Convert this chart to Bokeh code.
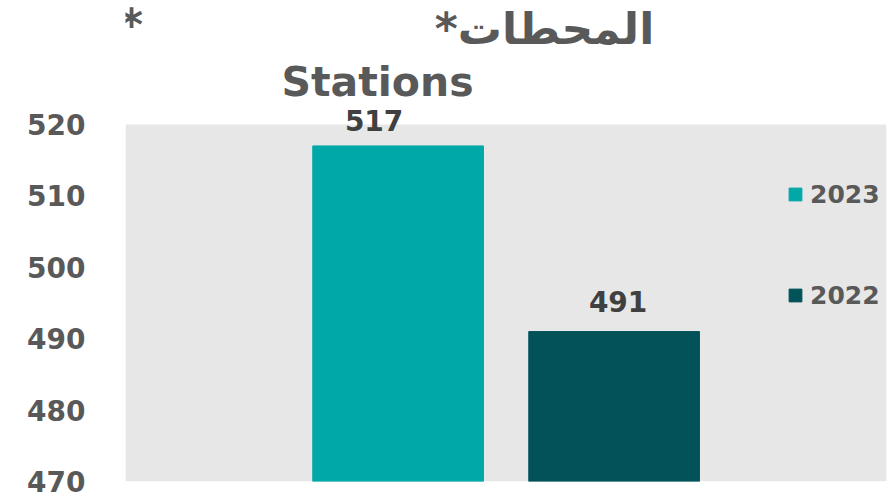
from bokeh.plotting import figure
from bokeh.models import (ColumnDataSource, Range1d, FixedTicker, Legend, LegendItem,
                          LabelSet, Label, BoxAnnotation)
from bokeh.core.properties import value
from bokeh.embed import file_html
from bokeh.resources import INLINE

# ---- data ----
years = ["2023", "2022"]
stations = [517, 491]
y_ticks = [470, 480, 490, 500, 510, 520]
title_ar = "*المحطات"
title_en = "Stations"

# ---- styles ----
bar_colors = ["#00A8A8", "#02525A"]
label_dx = [-24, 4]     # label nudges in px (as in the reference)
label_dy = [15, 20]
FONT = "DejaVu Sans"
GREY = "#595959"
PLOT_BG = "#E7E7E7"

src = ColumnDataSource(dict(
    x=list(range(len(years))),
    top=stations,
    bottom=[y_ticks[0]] * len(years),
    year=years,
    color=bar_colors,
    txt=[str(v) for v in stations],
    dx=label_dx,
    dy=label_dy,
))

# frame spans the whole page height so that the titles (inside it) are not clipped;
# the grey box marks the real plotting area 470..520
p = figure(width=894, height=499, output_backend="svg", toolbar_location=None,
           x_range=Range1d(-1.262, 2.261), y_range=Range1d(y_ticks[0], 537.37),
           min_border_left=125, min_border_right=8, min_border_top=0, min_border_bottom=18)

p.background_fill_color = "white"
p.border_fill_color = "white"
p.outline_line_color = None
p.grid.visible = False
p.xaxis.visible = False

p.add_layout(BoxAnnotation(bottom=y_ticks[0], top=y_ticks[-1], fill_color=PLOT_BG,
                           fill_alpha=1, line_color=None, level="underlay"))

ya = p.yaxis[0]
ya.ticker = FixedTicker(ticks=y_ticks)
ya.axis_line_color = None
ya.major_tick_line_color = None
ya.minor_tick_line_color = None
ya.major_tick_out = 0
ya.major_tick_in = 0
ya.major_label_standoff = 40
ya.major_label_text_font = FONT
ya.major_label_text_font_size = "28px"
ya.major_label_text_font_style = "bold"
ya.major_label_text_color = GREY

r = p.vbar(x="x", top="top", bottom="bottom", width=0.79, color="color", source=src)

labels = LabelSet(x="x", y="top", text="txt", x_offset="dx", y_offset="dy", source=src,
                  text_align="center", text_baseline="alphabetic", text_font=value(FONT),
                  text_font_size=value("28px"), text_font_style="bold", text_color="#404040")
p.add_layout(labels)

legend = Legend(items=[LegendItem(label=years[i], renderers=[r], index=i) for i in range(len(years))],
                location=(662, 171), padding=0, margin=0, spacing=71,
                glyph_width=16, glyph_height=16, label_height=30, label_standoff=7,
                label_text_font=FONT, label_text_font_size="25px", label_text_font_style="bold",
                label_text_color=GREY, border_line_color=None, background_fill_alpha=0)
p.add_layout(legend)

for txt, x, y, size in [(title_ar, 419, 453, "44px"),
                        (title_en, 252, 400, "41px"),
                        ("*", 6, 457, "44px")]:
    p.add_layout(Label(x=x, y=y, x_units="screen", y_units="screen", text=txt,
                       text_font=FONT, text_font_size=size, text_font_style="bold",
                       text_color=GREY, text_align="center", text_baseline="alphabetic"))

open("out.html", "w").write(file_html(p, INLINE))
